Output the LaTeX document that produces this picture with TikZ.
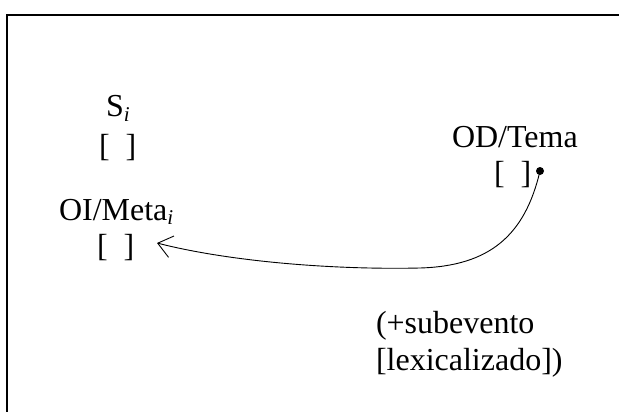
\documentclass[tikz,border=0pt]{standalone}
\usepackage{fontspec}
\setmainfont{Liberation Serif}
\usetikzlibrary{arrows.meta}
\newcommand{\subi}{\raisebox{-0.13em}{\fontsize{21}{21}\selectfont\itshape i}}
\begin{document}
\begin{tikzpicture}[x=1pt,y=-1pt,
  lbl/.style={anchor=base west,inner sep=0pt,outer sep=0pt,font=\fontsize{32}{36}\selectfont},
  link/.style={line width=0.9pt,-{Straight Barb[length=14pt,width=22pt,line width=0.9pt]}}]
  \useasboundingbox (0,0) rectangle (619,412);
  % open frame: top and left sides
  \draw[line width=1.8pt] (7,412) -- (7,15) -- (619,15);
  % argument labels and their slots
  \node[lbl] (s)    at (106,117) {S\subi};
  \node[lbl] (sbr)  at (99,156)  {[~~]};
  \node[lbl] (oi)   at (59,220)  {OI/Meta\subi};
  \node[lbl] (oibr) at (97,256)  {[~~]};
  \node[lbl] (od)   at (452,147) {OD/Tema};
  \node[lbl] (odbr) at (494,183) {[~~]};
  \node[lbl] (sub1) at (376,333) {(+subevento};
  \node[lbl] (sub2) at (376,370) {[lexicalizado])};
  % linking dot and arrow
  \node[circle,fill=black,inner sep=0pt,minimum size=8pt] (dot) at (540,171) {};
  \coordinate (tip) at (157,243);
  \draw[link] (dot.center) .. controls (525,235) and (490,266) .. (420,268)
                          .. controls (330,270) and (227,261) .. (tip);
\end{tikzpicture}
\end{document}
